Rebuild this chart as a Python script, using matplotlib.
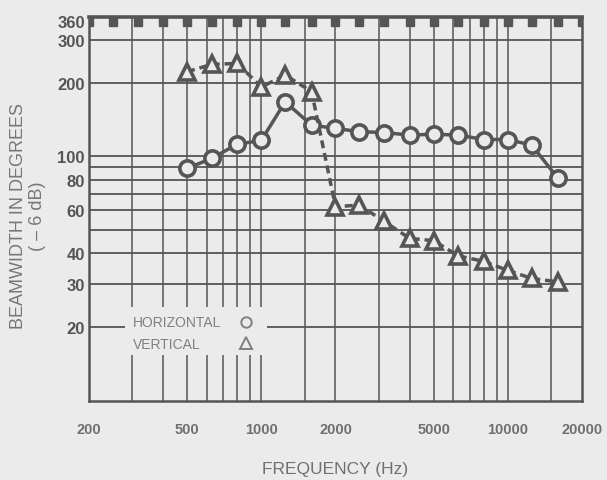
import matplotlib
matplotlib.use("Agg")
import matplotlib.pyplot as plt
from matplotlib.patches import Rectangle
from matplotlib.ticker import NullLocator

# 1/3-octave band centres (Hz) and beamwidths (degrees, -6 dB)
FREQ = [500, 630, 800, 1000, 1250, 1600, 2000, 2500, 3150, 4000,
        5000, 6300, 8000, 10000, 12500, 16000]
HORIZONTAL = [89, 98, 112, 116, 167, 134, 130, 126, 125, 122,
              123, 122, 117, 117, 111, 81]
VERTICAL = [222, 238, 240, 192, 215, 184, 62, 63, 54, 46,
            45, 39, 37, 34, 31.5, 30.5]

# band marks along the top edge
BANDS = [200, 250, 315, 400, 500, 630, 800, 1000, 1250, 1600, 2000, 2500,
         3150, 4000, 5000, 6300, 8000, 10000, 12500, 16000, 20000]

GRID_X = [300, 400, 500, 600, 700, 800, 900, 1000, 1500, 2000, 3000, 4000,
          5000, 6000, 7000, 8000, 9000, 10000, 15000]
GRID_Y = [20, 30, 40, 50, 60, 70, 80, 90, 100, 200, 300]
XTICKS = [200, 500, 1000, 2000, 5000, 10000, 20000]
YTICKS = [20, 30, 40, 60, 80, 100, 200, 300, 360]

BG = "#ebebeb"
INK = "#555555"
SOFT = "#808080"

plt.rcParams["font.family"] = ["Liberation Sans", "DejaVu Sans"]

fig = plt.figure(figsize=(6.07, 4.81), dpi=100, facecolor=BG)
ax = fig.add_axes([0.1466, 0.1642, 0.8122, 0.7983])
ax.set_facecolor(BG)
ax.set_xscale("log")
ax.set_yscale("log")
ax.set_xlim(200, 20000)
ax.set_ylim(9.9, 372)

for f in GRID_X:
    ax.axvline(f, color=INK, lw=1.1, zorder=1)
for v in GRID_Y:
    ax.axhline(v, color=INK, lw=1.3, zorder=1)

# gap in the grid behind the legend
ax.add_patch(Rectangle((0.073, 0.12), 0.288, 0.125, transform=ax.transAxes,
                       facecolor=BG, edgecolor="none", zorder=1.5))

ax.plot(FREQ, HORIZONTAL, color=INK, lw=2.5, marker="o", ms=11,
        mfc=BG, mec=INK, mew=2.6, zorder=3)
ax.plot(FREQ, VERTICAL, color=INK, lw=2.5, ls=(0, (2.3, 1.4)), marker="^",
        ms=11, mfc=BG, mec=INK, mew=2.6, zorder=3)

ax.plot(BANDS, [0.987] * len(BANDS), transform=ax.get_xaxis_transform(),
        ls="none", marker="s", ms=5.2, color=INK, zorder=4)

# legend
ax.text(0.089, 0.206, "HORIZONTAL", transform=ax.transAxes, fontsize=10,
        color=SOFT, va="center", ha="left", zorder=4)
ax.text(0.089, 0.148, "VERTICAL", transform=ax.transAxes, fontsize=10,
        color=SOFT, va="center", ha="left", zorder=4)
ax.plot([0.318], [0.206], transform=ax.transAxes, marker="o", ms=7.5,
        mfc="none", mec=SOFT, mew=1.4, zorder=4)
ax.plot([0.318], [0.151], transform=ax.transAxes, marker="^", ms=8,
        mfc="none", mec=SOFT, mew=1.4, zorder=4)

ax.set_xticks(XTICKS)
ax.set_xticklabels([str(t) for t in XTICKS])
ax.set_yticks(YTICKS)
ax.set_yticklabels([str(t) for t in YTICKS])
ax.xaxis.set_minor_locator(NullLocator())
ax.yaxis.set_minor_locator(NullLocator())
ax.tick_params(axis="x", length=0, pad=15, labelsize=10.5, labelcolor="#707070")
ax.tick_params(axis="y", length=0, pad=3, labelsize=12, labelcolor=INK)
for lab in ax.get_xticklabels() + ax.get_yticklabels():
    lab.set_fontweight("bold")

for side, sp in ax.spines.items():
    sp.set_color(INK)
    sp.set_linewidth(1.8)
ax.spines["top"].set_linewidth(2.6)

ax.set_xlabel("FREQUENCY (Hz)", fontsize=12.5, color="#707070", labelpad=18)
fig.text(0.03, 0.551, "BEAMWIDTH IN DEGREES", rotation=90, fontsize=13,
         color="#777777", ha="center", va="center")
fig.text(0.061, 0.551, "( \u2013 6 dB)", rotation=90, fontsize=13,
         color="#777777", ha="center", va="center")

fig.savefig("out.png", dpi=100, facecolor=BG)
